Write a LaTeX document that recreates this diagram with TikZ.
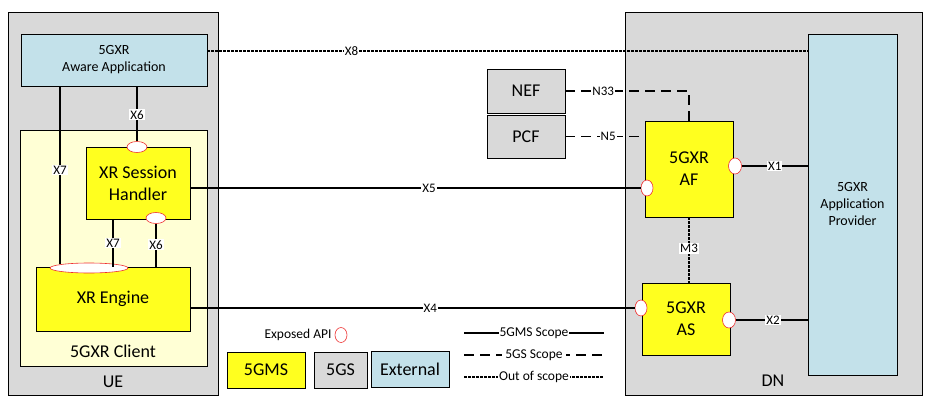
\documentclass[tikz,border=0pt]{standalone}
\usepackage{fontspec}
\setmainfont{Carlito}
\usetikzlibrary{shapes.geometric, positioning, calc}
\definecolor{GMSyellow}{HTML}{FFFF1F}
\definecolor{GSgray}{HTML}{D9D9D9}
\definecolor{EXTblue}{HTML}{C3E1EA}
\definecolor{CLIENTbg}{HTML}{FFFFD5}
\definecolor{APIred}{HTML}{EE3030}

\begin{document}
\begin{tikzpicture}[
      x=1pt, y=-1pt,
      every node/.style={align=center, inner sep=0pt, font=\fontsize{18}{22}\selectfont},
      zone/.style={draw, line width=0.8pt, fill=GSgray},
      fn/.style={draw, line width=0.8pt, fill=GMSyellow},
      gs/.style={draw, line width=0.8pt, fill=GSgray},
      ext/.style={draw, line width=0.8pt, fill=EXTblue},
      small/.style={font=\fontsize{14}{17}\selectfont},
      api/.style={ellipse, draw=APIred, fill=white, line width=0.6pt, minimum width=12pt, minimum height=16pt},
      lbl/.style={fill=white, inner sep=1pt, font=\fontsize{13}{14}\selectfont},
      l5gms/.style={line width=1.8pt},
      l5gs/.style={line width=1.8pt, dash pattern=on 10pt off 6pt},
      lout/.style={line width=1.5pt, dash pattern=on 2.5pt off 1.5pt}
   ]
      \useasboundingbox (0,0) rectangle (929,404);
      % zones
      \node (ue) [zone, minimum width=210pt, minimum height=383pt] at (113,203.5) {};
      \node (dn) [zone, minimum width=297pt, minimum height=383pt] at (773.5,203.5) {};
      \node (uelbl) at (113,382) {UE};
      \node (dnlbl) at (773,381) {DN};
      \node (client) [draw, line width=0.8pt, fill=CLIENTbg, minimum width=187pt, minimum height=236pt] at (113.5,248) {};
      \node (clientlbl) at (113,351) {5GXR Client};

      % functions
      \node (awareapp) [ext, small, minimum width=186pt, minimum height=52pt] at (114,60) {5GXR\\Aware Application};
      \node (handler) [fn, minimum width=104pt, minimum height=72pt] at (138,183) {XR Session\\Handler};
      \node (engine) [fn, minimum width=154pt, minimum height=64pt] at (113,299) {XR Engine};
      \node (nef) [gs, minimum width=78pt, minimum height=44pt] at (526,91) {NEF};
      \node (pcf) [gs, minimum width=78pt, minimum height=43pt] at (526,136.5) {PCF};
      \node (af) [fn, minimum width=88pt, minimum height=96pt] at (689,169) {5GXR\\AF};
      \node (as) [fn, minimum width=88pt, minimum height=72pt] at (686,319) {5GXR\\AS};
      \node (provider) [ext, small, minimum width=89pt, minimum height=341pt] at (852.5,204.5) {5GXR\\Application\\Provider};

      % exposed APIs
      \node (api1) [api, minimum width=20pt, minimum height=11pt] at (137,147) {};
      \node (api2) [api, minimum width=20pt, minimum height=11pt] at (156,218) {};
      \node (api3) [api, minimum width=78pt, minimum height=10pt] at (89,268) {};
      \node (api4) [api] at (647,188) {};
      \node (api5) [api, minimum width=13pt] at (735,166) {};
      \node (api6) [api] at (641,308) {};
      \node (api7) [api, minimum width=13pt] at (729,320) {};

      % reference points
      \draw[lout] ([yshift=9pt]awareapp.east) -- ([yshift=9pt]awareapp.east -| provider.west) node[lbl, pos=0.24] {X8};
      \draw[l5gms] ([xshift=-54pt]awareapp.south) -- ([xshift=-54pt, yshift=-1.5pt]awareapp.south |- api3.north) node[lbl, pos=0.47] {X7};
      \draw[l5gms] (api1.north |- awareapp.south) -- (api1.north) node[lbl, pos=0.52] {X6};
      \draw[l5gms] ([xshift=-25pt]handler.south) -- ([xshift=-25pt]handler.south |- engine.north) node[lbl, midway] {X7};
      \draw[l5gms] (api2.south) -- (api2.south |- engine.north) node[lbl, pos=0.49] {X6};
      \draw[l5gms] (api4 -| handler.east) -- (api4.west) node[lbl, pos=0.53] {X5};
      \draw[l5gms] (api6 -| engine.east) -- (api6.west) node[lbl, pos=0.54] {X4};
      \draw[l5gms] (api5.east) -- (api5 -| provider.west) node[lbl, pos=0.5] {X1};
      \draw[l5gms] (api7.east) -- (api7 -| provider.west) node[lbl, pos=0.52] {X2};
      \draw[l5gs] (nef.east) -| (af.north) node[lbl, pos=0.153] {N33};
      \draw[l5gs] (pcf.east) -- (pcf.east -| af.west) node[lbl, pos=0.54] {N5};
      \draw[lout] (af.south) -- (af.south |- as.north) node[lbl, pos=0.48] {M3};

      % legend
      \node (legapi) [api, minimum width=12pt, minimum height=15pt] at (341,335) {};
      \node (apitxt) [left=3pt of legapi, font=\fontsize{13.5}{15}\selectfont] {Exposed API};
      \node (leggms) [fn, minimum width=78pt, minimum height=36pt] at (266,370) {5GMS};
      \node (leggs) [gs, minimum width=53pt, minimum height=36pt] at (340.5,370) {5GS};
      \node (legext) [ext, minimum width=78pt, minimum height=36pt] at (410,369) {External};
      \coordinate (gmsl) at (464,333);
      \coordinate (gmsr) at (604,333);
      \coordinate (gsl) at (464,355);
      \coordinate (gsr) at (604,355);
      \coordinate (outl) at (464,377);
      \coordinate (outr) at (604,377);
      \draw[l5gms] (gmsl) -- (gmsr) node[lbl, midway, font=\fontsize{13.5}{15}\selectfont] {5GMS Scope};
      \draw[l5gs] (gsl) -- (gsr) node[lbl, midway, inner sep=3pt, font=\fontsize{13.5}{15}\selectfont] {5GS Scope};
      \draw[lout] (outl) -- (outr) node[lbl, midway, font=\fontsize{13.5}{15}\selectfont] {Out of scope};
   \end{tikzpicture}
\end{document}
